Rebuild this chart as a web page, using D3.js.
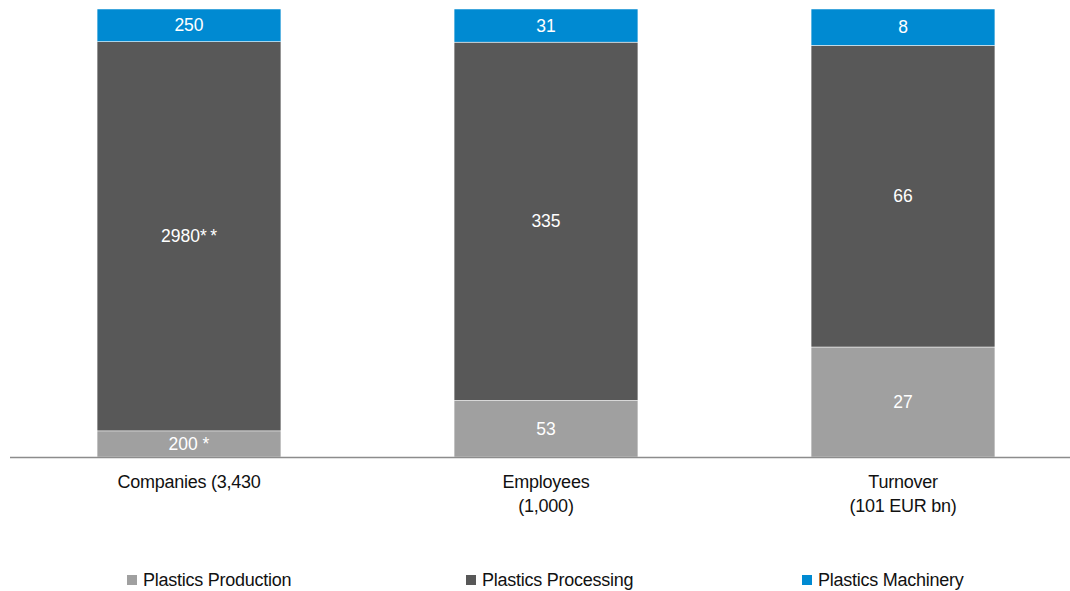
<!DOCTYPE html>
<html>
<head>
<script src="https://d3js.org/d3.v7.min.js"></script>
<style>
  body { margin: 0; background: #fff; }
  text { font-family: "Liberation Sans", Arial, sans-serif; }
</style>
</head>
<body>
<svg id="chart" width="1070" height="591"></svg>
<script>
const categories = ["Companies", "Employees", "Turnover"]
const categoryLabels = [["Companies (3,430"], ["Employees", "(1,000)"], ["Turnover", "(101 EUR bn)"]]
const seriesNames = ["Plastics Production", "Plastics Processing", "Plastics Machinery"]
// bar sizes (turnover bar is drawn slightly off its labels)
const production = [200, 53, 24.8]
const processing = [2980, 335, 68]
const machinery = [250, 31, 8.2]
const valueLabels = [["200 *", "53", "27"], ["2980*\u2009*", "335", "66"], ["250", "31", "8"]]
const colors = ["#a0a0a0", "#585858", "#008ad2"]

const svg = d3.select("#chart")
const plotTop = 9, plotBottom = 457

const rows = categories.map((c, i) => {
    const total = production[i] + processing[i] + machinery[i]
    return { cat: c, s0: production[i] / total, s1: processing[i] / total, s2: machinery[i] / total }
})
const stack = d3.stack().keys(["s0", "s1", "s2"])(rows)

const x = d3.scaleBand().domain(categories).range([10.5, 1081.5]).paddingInner(0.485).paddingOuter(0.2425)
const y = d3.scaleLinear().domain([0, 1]).range([plotBottom, plotTop])

stack.forEach((layer, si) => {
    const g = svg.append("g")
    g.selectAll("rect").data(layer).join("rect")
        .attr("x", d => x(d.data.cat))
        .attr("width", x.bandwidth())
        .attr("y", d => y(d[1]))
        .attr("height", d => y(d[0]) - y(d[1]))
        .attr("fill", colors[si])
        .attr("stroke", "#ffffff")
        .attr("stroke-width", 0.5)
    g.selectAll("text").data(layer).join("text")
        .attr("x", d => x(d.data.cat) + x.bandwidth() / 2)
        .attr("y", d => (y(d[0]) + y(d[1])) / 2)
        .attr("dy", "0.35em")
        .attr("text-anchor", "middle")
        .attr("fill", "#ffffff")
        .attr("font-size", 17.5)
        .text((d, i) => valueLabels[si][i])
})

// baseline
svg.append("line")
    .attr("x1", 10).attr("x2", 1070)
    .attr("y1", plotBottom + 0.5).attr("y2", plotBottom + 0.5)
    .attr("stroke", "#8c8c8c").attr("stroke-width", 1.5)

// category labels
categories.forEach((c, i) => {
    const t = svg.append("text")
        .attr("x", x(c) + x.bandwidth() / 2)
        .attr("y", 488)
        .attr("text-anchor", "middle")
        .attr("font-size", 18)
        .attr("letter-spacing", -0.25)
        .attr("fill", "#111")
    categoryLabels[i].forEach((line, li) => {
        t.append("tspan").attr("x", x(c) + x.bandwidth() / 2).attr("dy", li == 0 ? 0 : 24).text(line)
    })
})

// legend
const legendX = [127, 466, 802]
seriesNames.forEach((name, i) => {
    svg.append("rect")
        .attr("x", legendX[i]).attr("y", 575)
        .attr("width", 10).attr("height", 10)
        .attr("fill", colors[i])
    svg.append("text")
        .attr("x", legendX[i] + 16).attr("y", 586)
        .attr("font-size", 18)
        .attr("letter-spacing", -0.25)
        .attr("fill", "#111")
        .text(name)
})
</script>
</body>
</html>
